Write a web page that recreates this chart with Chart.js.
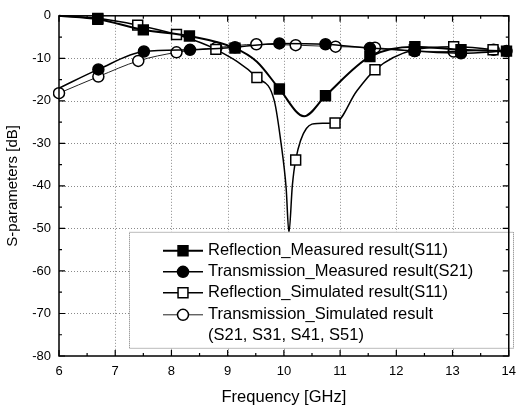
<!DOCTYPE html>
<html>
<head>
<meta charset="utf-8">
<script src="https://cdn.jsdelivr.net/npm/chart.js@4.4.1/dist/chart.umd.min.js"></script>
<style>
  html, body { margin: 0; padding: 0; background: #fff; }
  #wrap { width: 524px; height: 409px; }
</style>
</head>
<body>
<div id="wrap"><canvas id="myChart"></canvas></div>
<script>
// marked samples (frequency in GHz, S-parameter in dB)
var rmFreq = [6.69, 7.50, 8.32, 9.13, 9.92, 10.74, 11.53, 12.33, 13.15, 13.96];
var rmDb   = [-0.8, -3.3, -4.75, -7.6, -17.2, -18.8, -9.6, -7.25, -8.0, -8.3];
var tmFreq = [6.70, 7.51, 8.33, 9.13, 9.92, 10.74, 11.53, 12.33, 13.15, 13.96];
var tmDb   = [-12.6, -8.4, -8.0, -7.4, -6.5, -6.7, -7.6, -8.3, -8.8, -8.3];
var rsFreq = [6.69, 7.40, 8.09, 8.79, 9.52, 10.21, 10.91, 11.62, 12.32, 13.02, 13.72];
var rsDb   = [-0.6, -2.2, -4.4, -7.9, -14.5, -33.9, -25.2, -12.7, -8.0, -7.25, -8.0];
var tsFreq = [6.00, 6.70, 7.41, 8.09, 8.80, 9.51, 10.21, 10.92, 11.62, 12.32, 13.02, 13.73];
var tsDb   = [-18.2, -14.3, -10.6, -8.6, -7.5, -6.7, -6.9, -7.25, -7.5, -8.3, -8.4, -8.0];

// unmarked points
var rmTraceFreq = [6.0, 9.52, 10.36];
var rmTraceDb   = [0, -10.8, -23.6];
var tmTraceFreq = [6.0];
var tmTraceDb   = [-17.0];
var rsTraceFreq = [6.0, 9.83, 9.95, 10.04, 10.09, 10.15, 10.40, 10.60, 11.29, 14.0];
var rsTraceDb   = [0, -20, -30, -40.5, -51, -40, -26.5, -25.3, -17.8, -8.8];
var tsTraceFreq = [14.0];
var tsTraceDb   = [-8.6];

var xTicks = [6, 7, 8, 9, 10, 11, 12, 13, 14];
var yTicks = [0, -10, -20, -30, -40, -50, -60, -70, -80];

var legendNames = [
    ['Reflection_Measured result(S11)'],
    ['Transmission_Measured result(S21)'],
    ['Reflection_Simulated result(S11)'],
    ['Transmission_Simulated result', '(S21, S31, S41, S51)']
];

function merge(f, d, tf, td) {
    var pts = [];
    for (var i = 0; i < f.length; i++) pts.push({ x: f[i], y: d[i], m: true });
    for (var j = 0; j < tf.length; j++) pts.push({ x: tf[j], y: td[j], m: false });
    pts.sort(function (a, b) { return a.x - b.x; });
    return pts;
}

function series(label, pts, style, fill, radius, width, color) {
    return {
        label: label,
        data: pts,
        borderColor: color,
        borderWidth: width,
        pointStyle: style,
        pointBackgroundColor: fill,
        pointBorderColor: '#000',
        pointBorderWidth: 1.5,
        pointRadius: function (c) { return c.raw && c.raw.m ? radius : 0; },
        pointHoverRadius: 0,
        cubicInterpolationMode: 'monotone',
        fill: false,
        clip: 6
    };
}

var FONT = '"Liberation Sans", Arial, sans-serif';

var framePlugin = {
    id: 'frame',
    beforeDatasetsDraw: function (chart) {
        // dotted grid at the major ticks
        var ctx = chart.ctx, a = chart.chartArea;
        var sx = chart.scales.x, sy = chart.scales.y;
        ctx.save();
        ctx.strokeStyle = '#8a8a8a';
        ctx.lineWidth = 1;
        ctx.setLineDash([1, 2]);
        ctx.beginPath();
        xTicks.slice(1, -1).forEach(function (v) {
            var px = Math.round(sx.getPixelForValue(v)) + 0.5;
            ctx.moveTo(px, a.top); ctx.lineTo(px, a.bottom);
        });
        yTicks.slice(1, -1).forEach(function (v) {
            var py = Math.round(sy.getPixelForValue(v)) + 0.5;
            ctx.moveTo(a.left, py); ctx.lineTo(a.right, py);
        });
        ctx.stroke();
        ctx.restore();
    },
    afterDatasetsDraw: function (chart) {
        var ctx = chart.ctx, a = chart.chartArea;
        var sx = chart.scales.x, sy = chart.scales.y;
        ctx.save();
        // legend box
        var lx = a.left + 70, ly = a.top + 216, lw = 384, lh = 116;
        ctx.fillStyle = '#fff';
        ctx.fillRect(lx, ly, lw, lh);
        ctx.setLineDash([1, 1]);
        ctx.strokeStyle = '#777';
        ctx.lineWidth = 1;
        ctx.strokeRect(lx + 0.5, ly + 0.5, lw, lh);
        ctx.setLineDash([]);
        var rows = [19, 40, 61, 83];
        chart.data.datasets.forEach(function (ds, i) {
            var y = ly + rows[i];
            ctx.strokeStyle = ds.borderColor;
            ctx.lineWidth = ds.borderWidth;
            ctx.beginPath();
            ctx.moveTo(lx + 34, y);
            ctx.lineTo(lx + 74, y);
            ctx.stroke();
            ctx.fillStyle = ds.pointBackgroundColor;
            ctx.strokeStyle = '#000';
            ctx.lineWidth = 1.5;
            Chart.helpers.drawPoint(ctx, { pointStyle: ds.pointStyle, radius: i % 2 === 0 ? 7 : 5.5, borderWidth: 1.5 }, lx + 54, y);
            ctx.fillStyle = '#000';
            ctx.font = '16.5px ' + FONT;
            ctx.textBaseline = 'middle';
            ctx.textAlign = 'left';
            legendNames[i].forEach(function (t, k) {
                ctx.fillText(t, lx + 79, y + k * 21);
            });
        });

        // frame and inward ticks
        ctx.strokeStyle = '#000';
        ctx.lineWidth = 1.5;
        ctx.strokeRect(a.left, a.top, a.right - a.left, a.bottom - a.top);
        ctx.lineWidth = 1.2;
        ctx.beginPath();
        for (var v = 6; v <= 14.001; v += 0.5) {
            var px = sx.getPixelForValue(v);
            var len = Math.abs(v - Math.round(v)) < 0.01 ? 6 : 3;
            ctx.moveTo(px, a.bottom); ctx.lineTo(px, a.bottom - len);
            ctx.moveTo(px, a.top); ctx.lineTo(px, a.top + len);
        }
        for (var w = -80; w <= 0; w += 5) {
            var py = sy.getPixelForValue(w);
            var l2 = w % 10 === 0 ? 6 : 3;
            ctx.moveTo(a.left, py); ctx.lineTo(a.left + l2, py);
            ctx.moveTo(a.right, py); ctx.lineTo(a.right - l2, py);
        }
        ctx.stroke();
        ctx.restore();
    }
};

var ctx = document.getElementById('myChart').getContext('2d');
var myChart = new Chart(ctx, {
    type: 'line',
    data: {
        datasets: [
            series(legendNames[0].join(' '), merge(rmFreq, rmDb, rmTraceFreq, rmTraceDb), 'rect', '#000', 7, 2, '#000'),
            series(legendNames[1].join(' '), merge(tmFreq, tmDb, tmTraceFreq, tmTraceDb), 'circle', '#000', 5.5, 1.5, '#000'),
            series(legendNames[2].join(' '), merge(rsFreq, rsDb, rsTraceFreq, rsTraceDb), 'rect', '#fff', 7, 1.5, '#000'),
            series(legendNames[3].join(' '), merge(tsFreq, tsDb, tsTraceFreq, tsTraceDb), 'circle', '#fff', 5.5, 1, '#222')
        ]
    },
    options: {
        responsive: true,
        maintainAspectRatio: false,
        animation: false,
        layout: { padding: { top: 14, right: 6, left: 0, bottom: 0 } },
        plugins: {
            legend: { display: false },
            tooltip: { enabled: false }
        },
        scales: {
            x: {
                type: 'linear',
                min: 6,
                max: 14,
                afterBuildTicks: function (s) { s.ticks = xTicks.map(function (v) { return { value: v }; }); },
                afterFit: function (s) { s.height = 53; },
                ticks: { color: '#000', padding: 8, font: { family: FONT, size: 13 } },
                grid: { display: false, drawTicks: false },
                border: { display: false },
                title: { display: true, text: 'Frequency [GHz]', color: '#000', padding: { top: 4, bottom: 2 }, font: { family: FONT, size: 16.5 } }
            },
            y: {
                min: -80,
                max: 0,
                afterBuildTicks: function (s) { s.ticks = yTicks.map(function (v) { return { value: v }; }); },
                afterFit: function (s) { s.width = 59; },
                ticks: { color: '#000', padding: 8, font: { family: FONT, size: 13 } },
                grid: { display: false, drawTicks: false },
                border: { display: false },
                title: { display: true, text: 'S-parameters [dB]', color: '#000', padding: { top: 4, bottom: 4 }, font: { family: FONT, size: 15 } }
            }
        }
    },
    plugins: [framePlugin]
});
</script>
</body>
</html>
